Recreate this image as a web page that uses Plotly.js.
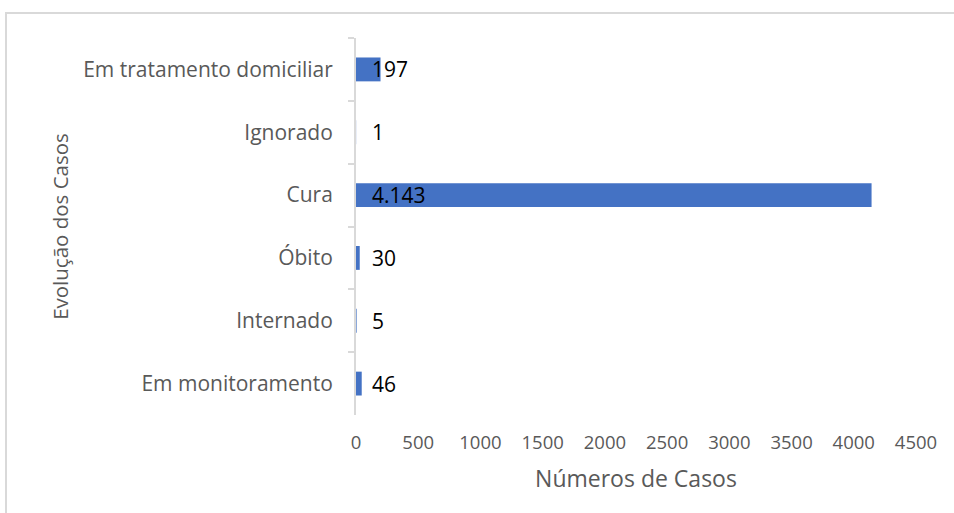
<!DOCTYPE html>
<html>
<head>
<meta charset="utf-8">
<script src="https://cdn.plot.ly/plotly-3.0.1.min.js"></script>
<style>
html,body{margin:0;padding:0;background:#fff;overflow:hidden;width:954px;height:513px;}
#chart{position:absolute;left:0;top:0;width:954px;height:513px;}
#frame{position:absolute;left:5px;top:12px;width:1000px;height:600px;border:2px solid #d9d9d9;pointer-events:none;box-sizing:border-box;}
</style>
</head>
<body>
<div id="chart"></div>
<div id="frame"></div>
<script>
const categories = ["Em tratamento domiciliar", "Ignorado", "Cura", "Óbito", "Internado", "Em monitoramento"];
const values = [197, 1, 4143, 30, 5, 46];
const xTicks = [0, 500, 1000, 1500, 2000, 2500, 3000, 3500, 4000, 4500];

function fmt(v){ return String(v).replace(/\B(?=(\d{3})+(?!\d))/g, "."); }

const font = "Open Sans, Noto Sans, sans-serif";

const trace = {
  type: "bar",
  orientation: "h",
  y: categories,
  x: values,
  marker: {color: "#4472C4"},
  hoverinfo: "none"
};

const annotations = categories.map((c, i) => ({
  x: 0, y: c, xref: "x", yref: "y",
  text: fmt(values[i]),
  showarrow: false,
  xanchor: "left",
  xshift: 14,
  font: {family: font, size: 21, color: "#000"}
}));

const layout = {
  width: 954, height: 513,
  margin: {l: 356, r: 38, t: 38, b: 98},
  paper_bgcolor: "#fff", plot_bgcolor: "#fff",
  showlegend: false,
  bargap: 0.62,
  font: {family: font, color: "#595959", size: 16.5},
  xaxis: {
    range: [0, 4500],
    tickvals: xTicks,
    ticktext: xTicks.map(String),
    showgrid: false, zeroline: false, showline: false, ticks: "",
    ticklabelstandoff: 14,
    tickfont: {family: font, size: 18.5, color: "#595959"},
    title: {text: "Números de Casos", font: {family: font, size: 23, color: "#595959"}, standoff: 18}
  },
  yaxis: {
    type: "category",
    categoryorder: "array",
    categoryarray: categories,
    autorange: "reversed",
    showgrid: false, zeroline: false,
    showline: true, linecolor: "#d9d9d9", linewidth: 2,
    ticks: "outside", tickson: "boundaries", ticklen: 6, tickcolor: "#d9d9d9", tickwidth: 2,
    ticklabelstandoff: 17,
    tickfont: {family: font, size: 21, color: "#595959"},
    title: {text: "Evolução dos Casos", font: {family: font, size: 20.5, color: "#595959"}, standoff: 9}
  },
  annotations: annotations
};

Plotly.newPlot("chart", [trace], layout, {staticPlot: true, displayModeBar: false});
</script>
</body>
</html>
